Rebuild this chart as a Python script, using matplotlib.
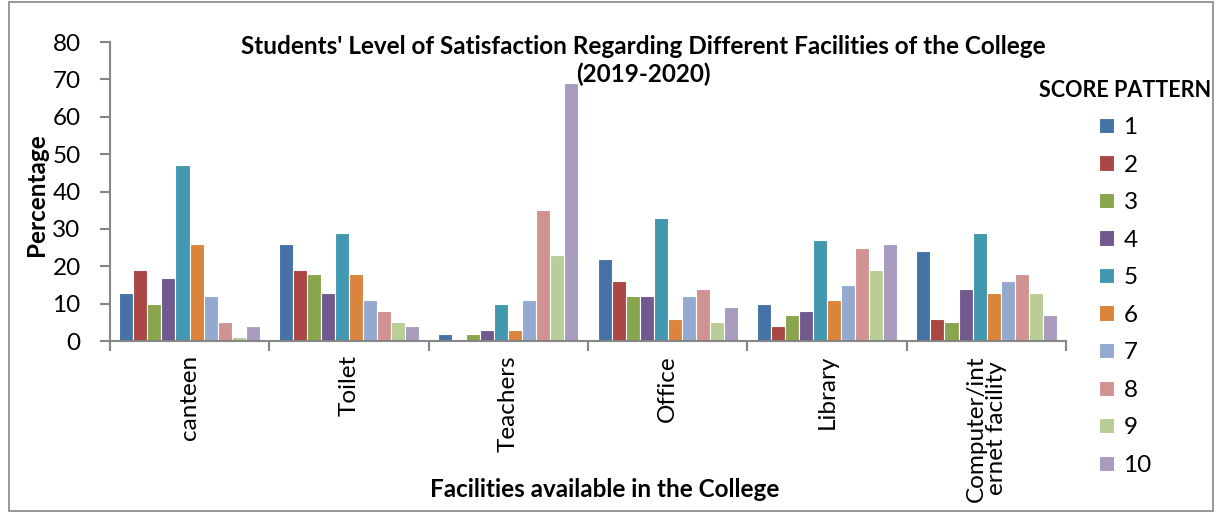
import numpy as np
import matplotlib
matplotlib.use('Agg')
import matplotlib.pyplot as plt
from matplotlib.patches import Rectangle

plt.rcParams['font.family'] = ['Lato', 'DejaVu Sans']

# data
facilities = ['canteen', 'Toilet', 'Teachers', 'Office', 'Library', 'Computer/int\nernet facility']
scores = ['1', '2', '3', '4', '5', '6', '7', '8', '9', '10']
canteen = [13, 19, 10, 17, 47, 26, 12, 5, 1, 4]
toilet = [26, 19, 18, 13, 29, 18, 11, 8, 5, 4]
teachers = [2, 0, 2, 3, 10, 3, 11, 35, 23, 69]
office = [22, 16, 12, 12, 33, 6, 12, 14, 5, 9]
library = [10, 4, 7, 8, 27, 11, 15, 25, 19, 26]
computer = [24, 6, 5, 14, 29, 13, 16, 18, 13, 7]
colors = ['#4572A7', '#AA4643', '#89A54E', '#71588F', '#4198AF',
          '#DB843D', '#93A9CF', '#D19392', '#B9CD96', '#A99BBD']

table = np.array([canteen, toilet, teachers, office, library, computer])  # rows = facility

fig = plt.figure(figsize=(12.2, 5.13), dpi=100)
ax = fig.add_axes([0.090, 0.335, 0.784, 0.583])

x = np.arange(len(facilities))
w = 0.088
for j, s in enumerate(scores):
    ax.bar(x + (j - 4.5) * w, table[:, j], w, color=colors[j],
           edgecolor='white', linewidth=0.8, label=s, zorder=2)

ax.set_xlim(-0.5, len(facilities) - 0.5)
ax.set_ylim(0, 80)
ax.set_yticks(range(0, 81, 10))
ax.tick_params(axis='y', labelsize=17.5, length=7, color='#868686', width=1.5, pad=14)

ax.set_xticks(x)
ax.set_xticklabels(facilities, rotation=90, fontsize=17.5, va='top', ha='center',
                   linespacing=0.95)
ax.tick_params(axis='x', which='major', length=0, pad=10)
ax.set_xticks(np.arange(-0.5, len(facilities)), minor=True)
ax.tick_params(axis='x', which='minor', length=7, color='#868686', width=1.5)

for side in ['top', 'right']:
    ax.spines[side].set_visible(False)
for side in ['left', 'bottom']:
    ax.spines[side].set_color('#868686')
    ax.spines[side].set_linewidth(1.5)

fig.text(0.030, 0.62, 'Percentage', fontsize=17.5, fontweight='bold',
         rotation=90, ha='center', va='center')
fig.text(0.496, 0.045, 'Facilities available in the College', fontsize=17.5,
         fontweight='bold', ha='center', va='center')
fig.text(0.527, 0.882, "Students' Level of Satisfaction Regarding Different Facilities of the College\n(2019-2020)",
         fontsize=17.5, fontweight='bold', ha='center', va='center', linespacing=1.2)

leg = fig.legend(loc='upper left', bbox_to_anchor=(0.838, 0.878), frameon=False,
                 title='SCORE PATTERN', fontsize=17.5, handlelength=0.6,
                 handleheight=0.6, labelspacing=0.68, handletextpad=0.4,
                 borderpad=0.2)
leg.get_title().set_fontweight('bold')
leg.get_title().set_fontsize(15.5)

# outer frame of the chart area
fig.patches.append(Rectangle((0.007, 0.003), 0.987, 0.994, transform=fig.transFigure,
                             fill=False, edgecolor='#868686', linewidth=1.2))

fig.savefig('out.png', dpi=100)
